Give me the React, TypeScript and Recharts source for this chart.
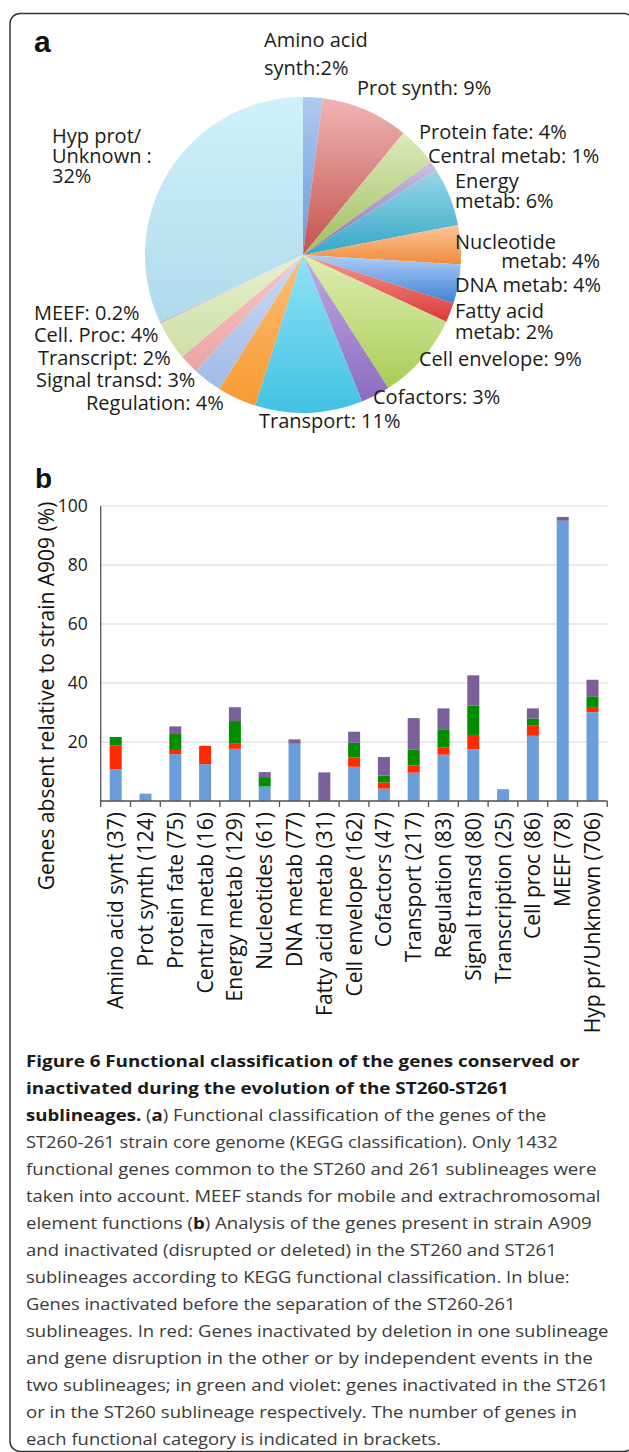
import React from "react";
import { PieChart, Pie, Cell, BarChart, Bar, XAxis, YAxis, CartesianGrid } from "recharts";

// ---------- Panel a: pie data ----------
const PIE_NAMES = [
  "Amino acid synth", "Prot synth", "Protein fate", "Central metab", "Energy metab",
  "Nucleotide metab", "DNA metab", "Fatty acid metab", "Cell envelope", "Cofactors",
  "Transport", "Regulation", "Signal transd", "Transcript", "Cell. Proc", "MEEF", "Hyp prot/Unknown",
];
const PIE_VALUES = [2, 9, 4, 1, 6, 4, 4, 2, 9, 3, 11, 4, 3, 2, 4, 0.2, 32];
const PIE_LABEL_TEXT = [
  ["Amino acid", "synth:2%"],
  ["Prot synth: 9%"],
  ["Protein fate: 4%"],
  ["Central metab: 1%"],
  ["Energy", "metab: 6%"],
  ["Nucleotide", "metab: 4%"],
  ["DNA metab: 4%"],
  ["Fatty acid", "metab: 2%"],
  ["Cell envelope: 9%"],
  ["Cofactors: 3%"],
  ["Transport: 11%"],
  ["Regulation: 4%"],
  ["Signal transd: 3%"],
  ["Transcript: 2%"],
  ["Cell. Proc: 4%"],
  ["MEEF: 0.2%"],
  ["Hyp prot/", "Unknown :", "32%"],
];

// ---------- Panel b: bar data ----------
const CATEGORIES = [
  "Amino acid synt (37)", "Prot synth (124)", "Protein fate (75)", "Central metab (16)",
  "Energy metab (129)", "Nucleotides (61)", "DNA metab (77)", "Fatty acid metab (31)",
  "Cell envelope (162)", "Cofactors (47)", "Transport (217)", "Regulation (83)",
  "Signal transd (80)", "Transcription (25)", "Cell proc (86)", "MEEF (78)", "Hyp pr/Unknown (706)",
];
const BLUE_VALUES = [10.7, 2.5, 15.9, 12.5, 17.7, 4.9, 19.4, 0, 11.6, 4.2, 9.6, 15.7, 17.5, 4.0, 22.1, 95.0, 30.1];
const RED_VALUES = [8.2, 0, 1.4, 6.2, 1.7, 0, 0, 0, 3.2, 2.1, 2.4, 2.4, 4.9, 0, 3.4, 0, 1.8];
const GREEN_VALUES = [2.8, 0, 5.4, 0, 7.7, 3.2, 0, 0, 4.9, 2.3, 5.5, 6.0, 10.0, 0, 2.5, 0, 3.6];
const VIOLET_VALUES = [0, 0, 2.6, 0, 4.7, 1.7, 1.5, 9.7, 3.8, 6.3, 10.6, 7.3, 10.2, 0, 3.4, 1.3, 5.6];
const Y_TICKS = [0, 20, 40, 60, 80, 100];
const Y_LABEL = "Genes absent relative to strain A909 (%)";

// ---------- Caption ----------
const CAPTION_LINES: [string, boolean][][] = [
  [["Figure 6 Functional classification of the genes conserved or", true]],
  [["inactivated during the evolution of the ST260-ST261", true]],
  [["sublineages.", true], [" (", false], ["a", true], [") Functional classification of the genes of the", false]],
  [["ST260-261 strain core genome (KEGG classification). Only 1432", false]],
  [["functional genes common to the ST260 and 261 sublineages were", false]],
  [["taken into account. MEEF stands for mobile and extrachromosomal", false]],
  [["element functions (", false], ["b", true], [") Analysis of the genes present in strain A909", false]],
  [["and inactivated (disrupted or deleted) in the ST260 and ST261", false]],
  [["sublineages according to KEGG functional classification. In blue:", false]],
  [["Genes inactivated before the separation of the ST260-261", false]],
  [["sublineages. In red: Genes inactivated by deletion in one sublineage", false]],
  [["and gene disruption in the other or by independent events in the", false]],
  [["two sublineages; in green and violet: genes inactivated in the ST261", false]],
  [["or in the ST260 sublineage respectively. The number of genes in", false]],
  [["each functional category is indicated in brackets.", false]],
];

// ---------- Layout / style (not data) ----------
const W = 629;
const H = 1452;
const FONT = "'Open Sans', 'Noto Sans', sans-serif";
const PIE_TOP = ["#AECAF0", "#EEB5B3", "#DCEABB", "#CDC1E0", "#98D8EA", "#FBC598", "#AFCDF6", "#F29A98", "#DFEEB3", "#C0ABE0", "#90E2F6", "#FCBE78", "#CBDAF2", "#F6C8C8", "#E6F1CF", "#DED4EC", "#D0F1FB"];
const PIE_BOTTOM = ["#6C9AD8", "#C4524F", "#9FBE5E", "#8A6FAE", "#36A7C6", "#F08C3E", "#3F82D6", "#DA3A36", "#A9CD55", "#8B6BC0", "#42C2E2", "#F69A32", "#A2BBE6", "#EBA4A4", "#CDDFA4", "#C4B6DB", "#B0DAEB"];
// label anchors: [x, firstBaseline, lineGap]
const PIE_LABEL_POS: [number, number, number][] = [
  [264, 47, 28], [357, 95, 19], [419, 139, 19], [428, 163, 19], [455, 188, 20],
  [455, 249, 19], [455, 292, 19], [455, 318, 21], [419, 366, 19], [373, 404, 19],
  [259, 428, 19], [86, 410, 19], [36, 387, 19], [38, 365, 19], [34, 342, 19],
  [34, 320, 19], [52, 143, 20],
];
const PIE_LABEL_SIZE = 20;
const CAPTION_END_X = [579.6, 508.6, 546.3, 557.6, 596.5, 600.5, 591.7, 556.8, 569.6, 515.4, 608.5, 592.9, 608.5, 576.8, 441.2];

const BLUE = "#6A9EDB";
const RED = "#FF2B00";
const GREEN = "#008E00";
const VIOLET = "#7A5F99";
const AXIS = "#555555";

const BAR_CHART_TOP = 440;
const PLOT_LEFT = 100.7;
const PLOT_RIGHT_MARGIN = 21.7;
const PLOT_W = W - PLOT_LEFT - PLOT_RIGHT_MARGIN;
const BAND = PLOT_W / CATEGORIES.length;

const pieData = PIE_NAMES.map((name, i) => ({ name, value: PIE_VALUES[i] }));
const barData = CATEGORIES.map((name, i) => ({
  name,
  blue: BLUE_VALUES[i],
  red: RED_VALUES[i],
  green: GREEN_VALUES[i],
  violet: VIOLET_VALUES[i],
}));

const renderPieLabel = (props: any) => {
  let idx = typeof props.index === "number" ? props.index : PIE_NAMES.indexOf(props.name);
  if (idx < 0) return null;
  const [x, y0, gap] = PIE_LABEL_POS[idx];
  const lines = PIE_LABEL_TEXT[idx];
  return (
    <text x={x} y={y0} fontFamily={FONT} fontSize={PIE_LABEL_SIZE} fill="#1b1b1b" textAnchor="start">
      {lines.map((l, j) => {
        if (idx === 5 && j === 1) {
          return (
            <tspan key={j} x={600} y={y0 + gap * j} textAnchor="end">{l}</tspan>
          );
        }
        return (
          <tspan key={j} x={x} y={y0 + gap * j}>{l}</tspan>
        );
      })}
    </text>
  );
};

const XTick = (props: any) => {
  const { x, y, payload, index } = props;
  const half = BAND / 2;
  const last = index === CATEGORIES.length - 1;
  return (
    <g>
      <line x1={x - half} x2={x - half} y1={y} y2={y + 6} stroke={AXIS} strokeWidth={1.3} />
      {last && <line x1={x + half} x2={x + half} y1={y} y2={y + 6} stroke={AXIS} strokeWidth={1.3} />}
      <text
        transform={`translate(${x + 7.5},${y + 11}) rotate(-90)`}
        textAnchor="end"
        fontFamily={FONT}
        fontSize={21}
        fill="#111"
      >
        {payload.value}
      </text>
    </g>
  );
};

const YTick = (props: any) => {
  const { x, y, payload } = props;
  if (payload.value === 0) return <g />;
  return (
    <text x={x} y={y} dy="0.36em" textAnchor="end" fontFamily={FONT} fontSize={17.5} fill="#1b1b1b">
      {payload.value}
    </text>
  );
};

const YLabel = (props: any) => {
  const vb = props.viewBox || { x: 0, y: 66, width: PLOT_LEFT, height: 295 };
  const cx = vb.x + 54;
  const cy = vb.y + vb.height / 2 + 42.5;
  return (
    <text
      transform={`translate(${cx},${cy}) rotate(-90)`}
      textAnchor="middle"
      fontFamily={FONT}
      fontSize={21}
      fill="#111"
    >
      {Y_LABEL}
    </text>
  );
};

export default function App() {
  return (
    <div style={{ position: "absolute", left: 0, top: 0, width: W, height: H, background: "#fff", overflow: "hidden" }}>
      {/* frame, panel letters, caption */}
      <svg width={W} height={H} style={{ position: "absolute", left: 0, top: 0 }}>
        <rect x={10} y={13.5} width={624} height={1438} rx={10} ry={10} fill="none" stroke="#333" strokeWidth={1.5} />
        <text x={34} y={52} fontFamily="'Liberation Sans', Arial, sans-serif" fontWeight={700} fontSize={30} fill="#111">a</text>
        <text x={35} y={488} fontFamily="'Liberation Sans', Arial, sans-serif" fontWeight={700} fontSize={28} fill="#111">b</text>
        {CAPTION_LINES.map((segs, i) => (
          <text
            key={i}
            x={26}
            y={1066.7 + 27 * i}
            fontFamily={FONT}
            fontSize={16.5}
            textLength={CAPTION_END_X[i] - 26}
            lengthAdjust="spacingAndGlyphs"
          >
            {segs.map(([t, b], j) => (
              <tspan key={j} fontWeight={b ? 700 : 400} fill={b ? "#1a1a1a" : "#3a3a3a"} style={{ whiteSpace: "pre" }}>
                {t}
              </tspan>
            ))}
          </text>
        ))}
      </svg>

      {/* panel a */}
      <div style={{ position: "absolute", left: 0, top: 0 }}>
        <PieChart width={W} height={440}>
          <defs>
            {PIE_TOP.map((c, i) => (
              <linearGradient key={i} id={`pg${i}`} x1="0" y1="0" x2="0" y2="1">
                <stop offset="0%" stopColor={c} />
                <stop offset="100%" stopColor={PIE_BOTTOM[i]} />
              </linearGradient>
            ))}
          </defs>
          <Pie
            data={pieData}
            dataKey="value"
            nameKey="name"
            cx={298}
            cy={250}
            innerRadius={0}
            outerRadius={158}
            startAngle={90}
            endAngle={-270}
            stroke="none"
            isAnimationActive={false}
            label={renderPieLabel}
            labelLine={false}
          >
            {pieData.map((d, i) => (
              <Cell key={d.name} fill={`url(#pg${i})`} />
            ))}
          </Pie>
        </PieChart>
      </div>

      {/* panel b */}
      <div style={{ position: "absolute", left: 0, top: BAR_CHART_TOP }}>
        <BarChart
          width={W}
          height={600}
          data={barData}
          margin={{ top: 66, right: PLOT_RIGHT_MARGIN, bottom: 0, left: 0 }}
          barSize={12}
        >
          <CartesianGrid vertical={false} stroke="#e3e3e3" strokeWidth={1.3} />
          <XAxis
            dataKey="name"
            type="category"
            interval={0}
            height={239}
            tickSize={0}
            tickMargin={0}
            tickLine={false}
            axisLine={{ stroke: AXIS, strokeWidth: 1.3 }}
            tick={<XTick />}
          />
          <YAxis
            type="number"
            domain={[0, 100]}
            ticks={Y_TICKS}
            width={PLOT_LEFT}
            tickSize={0}
            tickMargin={13}
            tickLine={false}
            axisLine={{ stroke: AXIS, strokeWidth: 1.3 }}
            tick={<YTick />}
            label={{ content: <YLabel /> }}
          />
          <Bar dataKey="blue" stackId="s" fill={BLUE} isAnimationActive={false} />
          <Bar dataKey="red" stackId="s" fill={RED} isAnimationActive={false} />
          <Bar dataKey="green" stackId="s" fill={GREEN} isAnimationActive={false} />
          <Bar dataKey="violet" stackId="s" fill={VIOLET} isAnimationActive={false} />
        </BarChart>
      </div>
    </div>
  );
}
